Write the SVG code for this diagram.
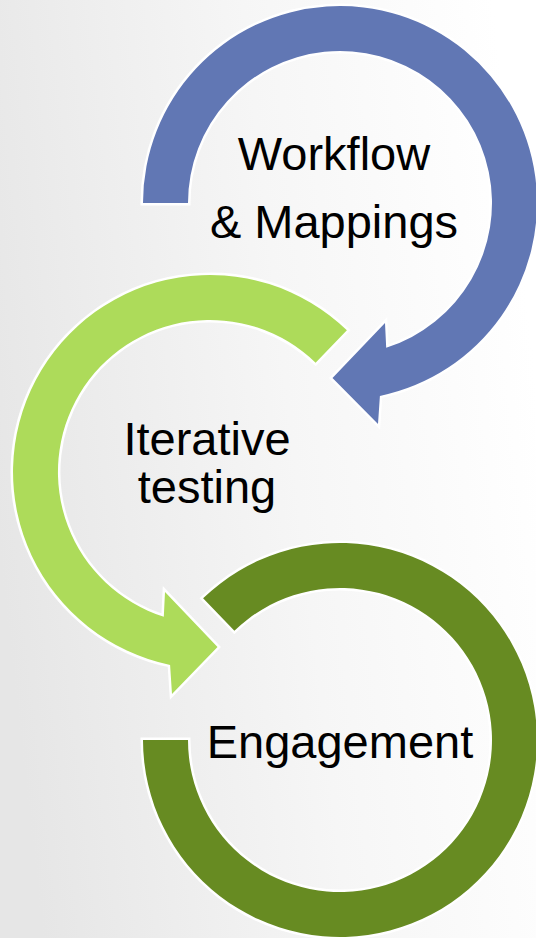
<svg xmlns="http://www.w3.org/2000/svg" width="536" height="938" viewBox="0 0 536 938">
  <defs>
    <linearGradient id="bg" x1="0" y1="0.6" x2="1" y2="0.4">
      <stop offset="0" stop-color="#e6e6e6"/>
      <stop offset="0.55" stop-color="#f6f6f6"/>
      <stop offset="1" stop-color="#ffffff"/>
    </linearGradient>
    <style>
      .arc { stroke: #ffffff; stroke-width: 5; stroke-linejoin: miter; paint-order: stroke; }
      .lbl { font-family: "Liberation Sans", Arial, sans-serif; font-size: 47px; fill: #000000; text-anchor: middle; }
    </style>
  </defs>
  <rect x="0" y="0" width="536" height="938" fill="url(#bg)"/>
  <g id="connectors"></g>
  <g id="node-workflow">
    <path class="arc" fill="#6177b4" d="M 143 203 A 197 197 0 1 1 379.9 395.9 L 378 424 L 332.5 378 L 385 323 L 386.2 347.8 A 152 152 0 1 0 188 203 Z"/>
    <text class="lbl" x="334" y="170">Workflow</text>
    <text class="lbl" x="334" y="238">&amp; Mappings</text>
  </g>
  <g id="node-iterative">
    <path class="arc" fill="#addb5a" d="M 346.9 330.3 A 197 197 0 1 0 170.1 664.9 L 172 694 L 217.5 647 L 165 592 L 163.8 616.8 A 152 152 0 1 1 315.6 362.7 Z"/>
    <text class="lbl" x="207" y="455">Iterative</text>
    <text class="lbl" x="207" y="503">testing</text>
  </g>
  <g id="node-engagement">
    <path class="arc" fill="#678b22" d="M 203.1 598.3 A 197 197 0 1 1 143 740 L 188 740 A 152 152 0 1 0 234.4 630.7 Z"/>
    <text class="lbl" x="340" y="758">Engagement</text>
  </g>
</svg>
